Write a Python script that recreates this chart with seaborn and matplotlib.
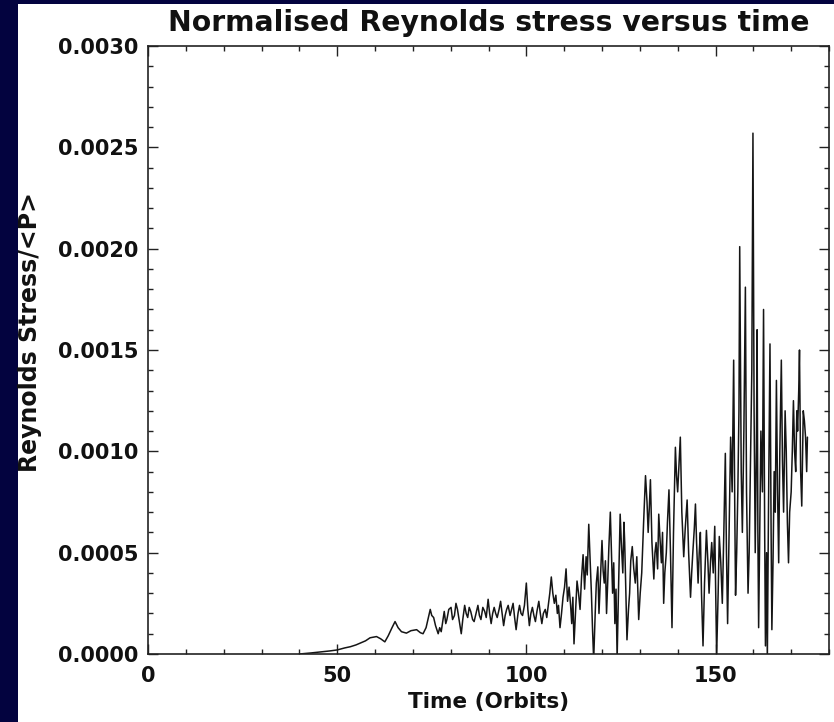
import numpy as np
import pandas as pd
import matplotlib
matplotlib.use("Agg")
import matplotlib.pyplot as plt
from matplotlib.patches import Rectangle
from matplotlib.ticker import MultipleLocator, FormatStrFormatter
import seaborn as sns

# ---- data ----
# Reynolds stress / <P> values are given in units of 1e-4
early_time = [40, 43, 45.5, 48, 50, 52, 53.5, 55, 56, 57.5, 58.7, 60.4, 61.5, 62.6, 63.5,
              64.5, 65.3, 66.1, 67, 68.3, 69.5, 71, 72, 72.7, 73.5]
early_stress_e4 = [0.0, 0.05, 0.1, 0.15, 0.2, 0.3, 0.36, 0.45, 0.53, 0.65, 0.8, 0.86, 0.75,
                   0.6, 0.9, 1.3, 1.6, 1.3, 1.1, 1.03, 1.15, 1.2, 1.05, 1.0, 1.3]

mid_time = [74.6, 75.0, 75.5, 76.0, 76.7, 77.1, 77.5, 77.9, 78.3, 78.7, 79.0, 79.5, 80.1,
            80.5, 81.0, 81.4, 81.8, 82.3, 82.8, 83.2, 83.7, 84.1, 84.5, 84.9, 85.3, 85.8,
            86.2, 86.7, 87.2, 87.6, 88.0, 88.5, 89.0, 89.4, 89.9, 90.3, 90.7, 91.1, 91.5,
            91.9, 92.3, 92.8, 93.2, 93.6, 94.0, 94.4, 94.8, 95.2, 95.7, 96.1, 96.5, 96.9,
            97.3, 97.8, 98.2, 98.6, 99.0, 99.5, 100.0, 100.4, 100.8, 101.2, 101.6, 102.0,
            102.4, 102.8, 103.3, 103.7, 104.1, 104.5, 105.0, 105.4, 105.8, 106.2, 106.6,
            107.0, 107.4, 107.8, 108.2, 108.5, 108.9, 109.3, 109.7, 110.1]
mid_stress_e4 = [2.2, 1.9, 1.8, 1.4, 1.0, 1.3, 1.1, 1.6, 2.1, 1.5, 1.7, 2.2, 2.3,
                 1.7, 1.9, 2.5, 2.2, 1.6, 1.0, 1.7, 2.4, 2.0, 1.8, 2.3, 2.1, 1.7,
                 1.6, 2.0, 2.4, 1.9, 1.7, 2.3, 2.1, 1.8, 2.7, 2.0, 1.5, 2.0, 2.3,
                 2.0, 1.8, 2.2, 2.6, 2.0, 1.4, 1.9, 2.2, 2.4, 1.9, 2.2, 2.5, 1.8,
                 1.2, 2.0, 2.4, 2.0, 1.9, 2.4, 3.5, 2.2, 1.4, 2.0, 2.3, 1.9,
                 1.6, 2.1, 2.6, 2.0, 1.5, 2.0, 2.2, 1.8, 2.4, 3.0, 3.8,
                 3.0, 2.5, 2.9, 2.0, 2.4, 1.3, 2.0, 2.8, 3.3]

late_time = [110.5, 110.9, 111.3, 111.7, 112.0, 112.3, 112.6, 113.0, 113.4, 113.8, 114.2,
             114.6, 115.0, 115.4, 115.8, 116.1, 116.5, 116.9, 117.2, 117.5, 117.8, 118.2,
             118.5, 118.9, 119.2, 119.6, 120.0, 120.3, 120.6, 120.9, 121.2, 121.5, 121.8,
             122.2, 122.5, 122.8, 123.1, 123.4, 123.7, 124.0, 124.4, 124.8, 125.1, 125.5,
             125.8, 126.0, 126.3, 126.6, 127.0, 127.3, 127.6, 128.0, 128.4, 128.8, 129.2,
             129.7, 130.1, 130.5, 131.0, 131.5, 131.9, 132.2, 132.5, 132.8, 133.2, 133.7,
             134.0, 134.3, 134.7, 135.0, 135.3, 135.7, 136.0, 136.3, 136.6, 137.0, 137.3,
             137.7, 138.1, 138.5, 138.9, 139.4, 139.7, 140.0, 140.4, 140.7, 141.1, 141.6,
             142.0, 142.5, 142.9, 143.4, 143.7, 144.0, 144.4, 144.7, 145.0, 145.4, 145.7,
             146.0, 146.3, 146.7, 147.1, 147.6, 148.0, 148.3, 148.7, 149.0, 149.4, 149.8,
             150.1, 150.3, 150.7, 151.0, 151.4, 151.8, 152.2, 152.6, 152.9, 153.2, 153.6,
             154.0, 154.4, 154.8, 155.1, 155.3, 155.6, 155.9, 156.2, 156.4, 156.8, 157.1,
             157.5, 157.9, 158.2, 158.6, 158.9, 159.2, 159.6, 159.9, 160.2, 160.5, 160.8,
             161.0, 161.2, 161.4, 161.7, 162.0, 162.4, 162.7, 163.0, 163.2, 163.5, 163.7,
             164.0, 164.4, 164.7, 164.9, 165.2, 165.5, 165.8, 166.1, 166.4, 166.7, 167.0,
             167.4, 167.7, 168.0, 168.4, 168.7, 169.0, 169.3, 169.6, 170.0, 170.3, 170.6,
             170.9, 171.2, 171.5, 171.7, 172.0, 172.2, 172.5, 172.8, 173.0, 173.2, 173.5,
             173.8, 174.1, 174.3]
late_stress_e4 = [4.2, 2.6, 3.3, 2.4, 1.5, 2.8, 0.5, 2.0, 3.6, 3.0, 2.2,
                  3.8, 4.9, 3.2, 4.8, 3.9, 6.4, 4.5, 3.0, 1.2, -0.3, 2.0,
                  3.5, 4.3, 2.0, 3.8, 5.6, 4.1, 3.5, 4.6, 2.0, 3.5, 5.2,
                  7.0, 5.0, 3.0, 4.5, 1.5, 3.2, -0.2, 3.5, 6.9, 5.5, 4.0,
                  6.5, 5.5, 3.0, 0.7, 2.2, 3.0, 4.6, 5.3, 4.2, 3.5, 4.8,
                  1.7, 3.0, 4.0, 6.5, 8.8, 7.5, 6.0, 7.2, 8.6, 5.5, 3.7,
                  5.0, 5.5, 4.2, 6.9, 5.8, 4.5, 6.0, 2.5, 4.0, 5.0, 6.5,
                  8.1, 5.0, 1.3, 6.0, 10.2, 8.8, 8.0, 9.5, 10.7, 7.0, 4.8,
                  6.2, 7.6, 5.0, 2.8, 4.0, 5.0, 6.2, 7.4, 5.5, 3.5, 5.0,
                  6.0, 3.0, 0.4, 3.5, 6.1, 4.5, 3.0, 4.6, 5.5, 4.0, 6.3,
                  2.5, -0.1, 3.0, 5.8, 4.5, 2.5, 6.0, 9.9, 5.0, 1.5, 6.0,
                  10.7, 8.0, 14.5, 7.0, 2.9, 5.0, 8.0, 12.0, 20.1, 9.0, 6.0,
                  11.0, 18.1, 8.0, 3.0, 5.0, 9.0, 14.0, 25.7, 12.0, 5.0, 10.0,
                  16.0, 6.0, 1.3, 6.0, 11.0, 8.0, 17.0, 6.0, 0.4, 5.0, -0.3,
                  7.0, 15.3, 6.0, 1.2, 4.5, 9.0, 7.0, 13.5, 8.0, 4.5, 10.0,
                  14.5, 9.5, 7.0, 12.0, 10.0, 6.5, 4.5, 7.0, 8.0, 10.0, 12.5,
                  10.0, 9.0, 12.0, 11.0, 13.0, 15.0, 9.0, 7.3, 9.5, 12.0, 11.5,
                  10.7, 9.0, 10.7]

y_ticks = [0.0, 0.0005, 0.0010, 0.0015, 0.0020, 0.0025, 0.0030]
x_ticks = [0, 50, 100, 150]

df = pd.DataFrame({
    "time": early_time + mid_time + late_time,
    "stress": np.array(early_stress_e4 + mid_stress_e4 + late_stress_e4) * 1e-4,
})

# ---- styling ----
sns.set_theme(style="ticks")
plt.rcParams["font.family"] = ["DejaVu Sans"]
plt.rcParams["font.weight"] = "bold"

W, H = 834, 722
navy = "#03033f"
fig = plt.figure(figsize=(W / 100, H / 100), dpi=100)
fig.patch.set_facecolor(navy)
fig.add_artist(Rectangle((18 / W, 0), (W - 18) / W, (H - 4) / H,
                         transform=fig.transFigure, facecolor="white",
                         edgecolor="none", zorder=0))

left, right, top, bottom = 148, 829, 46, 654
ax = fig.add_axes([left / W, (H - bottom) / H, (right - left) / W, (bottom - top) / H])
ax.set_facecolor("white")

sns.lineplot(data=df, x="time", y="stress", ax=ax, color="#151515",
             linewidth=1.1, estimator=None, sort=False)

ax.set_xlim(0, 180)
ax.set_ylim(0, 0.003)
ax.set_xticks(x_ticks)
ax.set_yticks(y_ticks)
ax.xaxis.set_minor_locator(MultipleLocator(10))
ax.yaxis.set_minor_locator(MultipleLocator(0.0001))
ax.yaxis.set_major_formatter(FormatStrFormatter("%.4f"))

ax.tick_params(which="both", direction="in", top=True, right=True,
               color="#222222", width=1.0)
ax.tick_params(which="major", length=7)
ax.tick_params(which="minor", length=3.5)
ax.tick_params(axis="x", which="major", labelsize=15, pad=9)
ax.tick_params(axis="y", which="major", labelsize=15, pad=7)
for lbl in ax.get_xticklabels() + ax.get_yticklabels():
    lbl.set_fontweight("bold")
    lbl.set_color("#111111")

for sp in ax.spines.values():
    sp.set_color("#222222")
    sp.set_linewidth(1.2)
    sp.set_visible(True)

ax.set_title("Normalised Reynolds stress versus time", fontsize=20.3,
             fontweight="bold", color="#111111", pad=11)
ax.set_xlabel("Time (Orbits)", fontsize=15.5, fontweight="bold", color="#111111",
              labelpad=4)
ax.set_ylabel("Reynolds Stress/<P>", fontsize=17, fontweight="bold", color="#111111")
ax.yaxis.set_label_coords(-0.155, 0.53)

fig.savefig("out.png", dpi=100, facecolor=fig.get_facecolor())
